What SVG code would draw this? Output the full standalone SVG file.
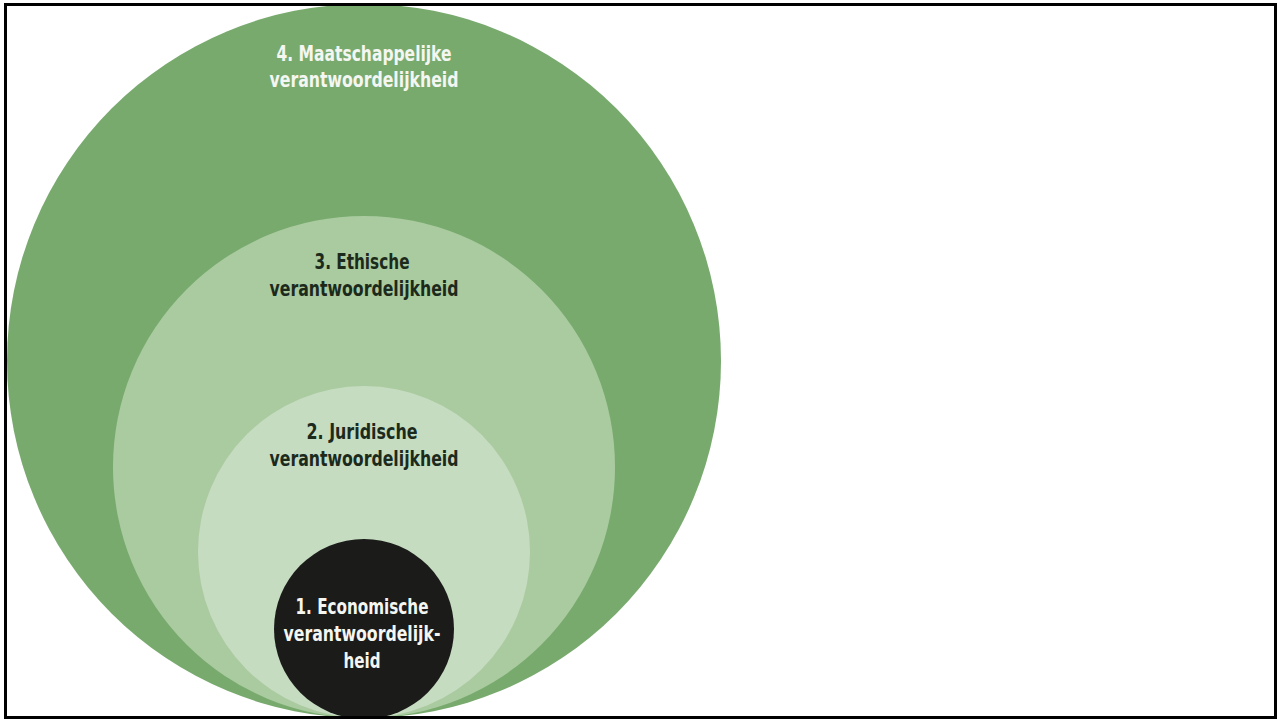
<svg xmlns="http://www.w3.org/2000/svg" width="1279" height="720" viewBox="0 0 1279 720">
  <style>
    .lbl { font-family: "DejaVu Sans Condensed", "Liberation Sans", sans-serif; font-weight: bold; font-size: 21px; text-anchor: middle; }
    .light { fill: #f4f6f2; }
    .dark { fill: #1c2a1c; }
  </style>
  <defs>
    <clipPath id="frame-clip">
      <rect x="5" y="4" width="1270" height="714"/>
    </clipPath>
  </defs>
  <rect x="0" y="0" width="1279" height="720" fill="#ffffff"/>
  <g clip-path="url(#frame-clip)">
    <g id="level4">
      <circle cx="364" cy="361" r="357" fill="#78aa6e"/>
      <text class="lbl light" x="364" y="61" textLength="175" lengthAdjust="spacingAndGlyphs">4. Maatschappelijke</text>
      <text class="lbl light" x="364" y="87" textLength="189" lengthAdjust="spacingAndGlyphs">verantwoordelijkheid</text>
    </g>
    <g id="level3">
      <circle cx="364" cy="467" r="251" fill="#aacb9f"/>
      <text class="lbl dark" x="362" y="269" textLength="95" lengthAdjust="spacingAndGlyphs">3. Ethische</text>
      <text class="lbl dark" x="364" y="296" textLength="189" lengthAdjust="spacingAndGlyphs">verantwoordelijkheid</text>
    </g>
    <g id="level2">
      <circle cx="364" cy="552" r="166" fill="#c6dcc1"/>
      <text class="lbl dark" x="362" y="439" textLength="111" lengthAdjust="spacingAndGlyphs">2. Juridische</text>
      <text class="lbl dark" x="364" y="466" textLength="189" lengthAdjust="spacingAndGlyphs">verantwoordelijkheid</text>
    </g>
    <g id="level1">
      <circle cx="364" cy="629" r="90" fill="#1b1b1a"/>
      <text class="lbl light" x="362" y="614" textLength="133" lengthAdjust="spacingAndGlyphs">1. Economische</text>
      <text class="lbl light" x="362" y="641" textLength="157" lengthAdjust="spacingAndGlyphs">verantwoordelijk-</text>
      <text class="lbl light" x="362" y="668" textLength="37" lengthAdjust="spacingAndGlyphs">heid</text>
    </g>
  </g>
  <g id="connectors"/>
  <rect x="5.5" y="4.5" width="1270" height="713" fill="none" stroke="#000000" stroke-width="3"/>
</svg>
